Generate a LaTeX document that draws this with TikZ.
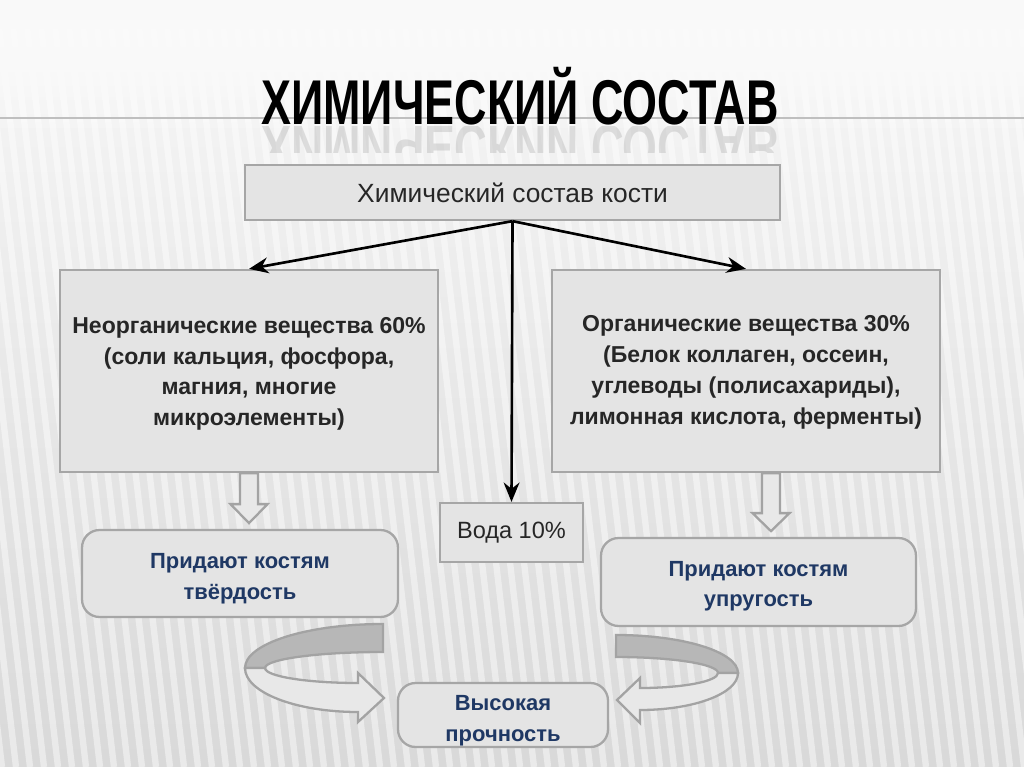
\documentclass[tikz,border=0pt]{standalone}
\usepackage{fontspec}
\setmainfont{Liberation Sans}
\usetikzlibrary{arrows.meta,calc}
\definecolor{boxfill}{HTML}{E4E4E4}
\definecolor{boxline}{HTML}{A6A6A6}
\definecolor{boxtext}{HTML}{262626}
\definecolor{bluetext}{HTML}{1F3864}
\definecolor{backband}{HTML}{B7B7B7}
\definecolor{frontband}{HTML}{E8E8E8}
\definecolor{bandline}{HTML}{A3A3A3}
\newcommand{\topgap}[1]{\rule{0pt}{#1}}
\tikzset{
  box/.style={draw=boxline,fill=boxfill,line width=1.3pt,align=center,text=boxtext},
  bigbox/.style={box,minimum height=4.04cm,font=\fontsize{13.1}{17.6}\selectfont\bfseries},
  roundbox/.style={box,rounded corners=10pt,font=\fontsize{12.5}{17.5}\selectfont\bfseries,text=bluetext},
  arr/.style={-{Stealth[length=11pt,width=9pt]},line width=1.5pt,black},
  blk/.style={draw=bandline,fill=frontband,line width=1.3pt,line join=miter},
  stripe/.style={white,line width=3.6pt,opacity=0.45},
  titlefont/.style={font=\fontsize{36}{40}\selectfont\bfseries}
}
\begin{document}
\begin{tikzpicture}[x=0.02cm,y=-0.02cm]
% background
\shade[top color=black!3,bottom color=black!15] (0,0) rectangle (1024,767);
\begin{scope}
  \clip (0,30) rectangle (1024,767);
  \foreach \x in {-200,-186,...,1100}
    \draw[stripe] (\x,0) -- (\x+90,767);
\end{scope}
\foreach \i in {1,...,7}
  \fill[white,opacity=0.16] (0,0) rectangle (1024,{30+\i*14});
\useasboundingbox (0,0) rectangle (1024,767);
\draw[black!25,line width=0.8pt] (0,118) -- (1024,118);

% title and its reflection
\node[anchor=base,inner sep=0pt,titlefont] (title) at (520,125)
  {\scalebox{0.71}[1]{ХИМИЧЕСКИЙ СОСТАВ}};
\begin{scope}
  \clip (0,126) rectangle (1024,152);
  \begin{scope}[shift={(520,126)},yscale=-1]
    \node[anchor=base,inner sep=0pt,transform shape,titlefont,text=black!50,opacity=0.22] (mirror) at (0,0)
      {\scalebox{0.71}[1]{ХИМИЧЕСКИЙ СОСТАВ}};
  \end{scope}
\end{scope}

% boxes
\node[box,minimum width=10.7cm,minimum height=1.1cm,font=\fontsize{15}{18}\selectfont] (top) at (512.5,192.5)
  {Химический состав кости};
\node[bigbox,minimum width=7.56cm] (inorg) at (249,371)
  {\topgap{12.4pt}Неорганические вещества 60\%\\(соли кальция, фосфора,\\магния, многие\\микроэлементы)};
\node[bigbox,minimum width=7.76cm] (org) at (746,371)
  {\topgap{11pt}Органические вещества 30\%\\(Белок коллаген, оссеин,\\углеводы (полисахариды),\\лимонная кислота, ферменты)};
\node[box,minimum width=2.86cm,minimum height=1.18cm,font=\fontsize{13.4}{16}\selectfont] (voda) at (511.5,532.5)
  {Вода 10\%};
\node[roundbox,minimum width=6.32cm,minimum height=1.74cm] (hard) at (240,573.5)
  {\topgap{14.4pt}Придают костям\\твёрдость};
\node[roundbox,minimum width=6.3cm,minimum height=1.76cm] (elast) at (758.5,582)
  {\topgap{13.4pt}Придают костям\\упругость};
\node[roundbox,minimum width=4.2cm,minimum height=1.28cm,inner ysep=0pt] (high) at (503,715)
  {\topgap{15pt}Высокая\\прочность};

% arrows from the top box
\draw[arr] (top.south) -- (inorg.north);
\draw[arr] (top.south) -- (org.north);
\draw[arr] (top.south) -- (voda.north);

% block arrows
\draw[blk] (inorg.south) ++(-9,0) -- ++(0,31) -- ++(-9.5,0) -- ++(18.5,19)
  -- ++(18.5,-19) -- ++(-9.5,0) -- ++(0,-31) -- cycle;
\draw[blk] ($(org.south)+(25,0)$) ++(-9,0) -- ++(0,40) -- ++(-9.5,0) -- ++(18.5,18)
  -- ++(18.5,-18) -- ++(-9.5,0) -- ++(0,-40) -- cycle;

% curved arrows to the bottom box
\draw[blk,fill=backband] (383,624) arc[start angle=270,end angle=180,x radius=138,y radius=44]
  -- (265,668) arc[start angle=180,end angle=270,x radius=118,y radius=16] -- cycle;
\draw[blk] (245,668) arc[start angle=180,end angle=90,x radius=113,y radius=44]
  -- (358,722) -- (384,698) -- (358,673) -- (358,683)
  arc[start angle=90,end angle=180,x radius=93,y radius=15] -- cycle;
\draw[blk,fill=backband] (616,635) arc[start angle=270,end angle=360,x radius=122,y radius=38]
  -- (718,673) arc[start angle=0,end angle=-90,x radius=102,y radius=16] -- cycle;
\draw[blk] (738,673) arc[start angle=0,end angle=90,x radius=98,y radius=37]
  -- (640,723) -- (617,700) -- (640,678) -- (640,688)
  arc[start angle=90,end angle=0,x radius=78,y radius=15] -- cycle;
\end{tikzpicture}
\end{document}
